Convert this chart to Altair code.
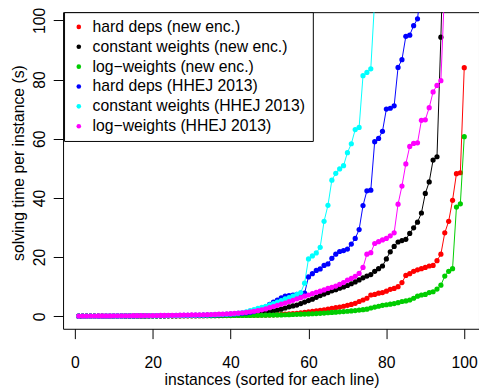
import altair as alt
import pandas as pd

series_names = [
    "hard deps (new enc.)",
    "constant weights (new enc.)",
    "log\u2212weights (new enc.)",
    "hard deps (HHEJ 2013)",
    "constant weights (HHEJ 2013)",
    "log\u2212weights (HHEJ 2013)",
]
colors = ["#FF0000", "#000000", "#00CD00", "#0000FF", "#00FFFF", "#FF00FF"]

hard_new = [
    0.05, 0.06, 0.06, 0.07, 0.07, 0.08, 0.08, 0.09, 0.09, 0.1,
    0.1, 0.11, 0.11, 0.12, 0.12, 0.13, 0.13, 0.14, 0.14, 0.15,
    0.15, 0.16, 0.16, 0.17, 0.17, 0.18, 0.18, 0.19, 0.2, 0.2,
    0.21, 0.22, 0.22, 0.23, 0.24, 0.25, 0.26, 0.27, 0.28, 0.29,
    0.3, 0.31, 0.32, 0.33, 0.35, 0.37, 0.39, 0.41, 0.43, 0.46,
    0.5, 0.55, 0.62, 0.7, 0.8, 0.9, 1.0, 1.2, 1.35, 1.5,
    1.65, 1.8, 2.0, 2.2, 2.45, 2.7, 2.9, 3.1, 3.4, 3.7,
    4.0, 4.4, 5.0, 5.5, 6.1, 7.2, 7.4, 7.8, 8.0, 8.5,
    9.1, 9.4, 10.0, 11.4, 13.8, 14.4, 15.2, 15.7, 16.1, 16.5,
    17.0, 17.2, 18.8, 21.0, 28.2, 32.1, 39.2, 48.2, 48.5, 84.0,
]
const_new = [
    0.05, 0.06, 0.06, 0.07, 0.07, 0.08, 0.08, 0.09, 0.09, 0.1,
    0.1, 0.11, 0.11, 0.12, 0.12, 0.13, 0.14, 0.14, 0.15, 0.16,
    0.16, 0.17, 0.18, 0.19, 0.2, 0.21, 0.22, 0.23, 0.24, 0.25,
    0.26, 0.27, 0.29, 0.3, 0.32, 0.34, 0.36, 0.38, 0.4, 0.43,
    0.46, 0.5, 0.55, 0.6, 0.7, 0.8, 0.95, 1.1, 1.3, 1.5,
    1.8, 2.1, 2.4, 2.8, 3.2, 3.5, 3.8, 4.3, 4.8, 5.3,
    5.8, 6.4, 7.0, 7.5, 8.0, 8.6, 9.0, 9.5, 9.9, 10.4,
    11.0, 11.6, 12.3, 13.0, 13.6, 14.1, 15.2, 16.1, 17.0, 19.4,
    21.8, 23.6, 25.1, 25.6, 26.0, 28.0, 29.9, 31.8, 34.9, 41.5,
    45.4, 52.8, 53.9, 94.3, 140.0,
]
log_new = [
    0.04, 0.05, 0.05, 0.06, 0.06, 0.07, 0.07, 0.08, 0.08, 0.09,
    0.09, 0.1, 0.1, 0.11, 0.11, 0.12, 0.12, 0.13, 0.13, 0.14,
    0.14, 0.15, 0.15, 0.16, 0.16, 0.17, 0.17, 0.18, 0.18, 0.19,
    0.19, 0.2, 0.2, 0.21, 0.22, 0.22, 0.23, 0.24, 0.25, 0.26,
    0.27, 0.28, 0.29, 0.3, 0.31, 0.32, 0.34, 0.36, 0.38, 0.4,
    0.42, 0.45, 0.48, 0.52, 0.56, 0.6, 0.65, 0.7, 0.75, 0.8,
    0.86, 0.92, 1.0, 1.1, 1.2, 1.3, 1.4, 1.5, 1.6, 1.7,
    1.8, 1.95, 2.1, 2.25, 2.4, 2.8, 3.1, 3.4, 3.7, 3.9,
    4.1, 4.3, 4.6, 5.0, 5.2, 5.5, 6.1, 6.8, 7.2, 7.4,
    8.0, 8.3, 9.2, 10.5, 13.6, 15.2, 16.1, 36.9, 38.0, 60.7,
]
hard_hhej = [
    0.05, 0.06, 0.07, 0.07, 0.08, 0.09, 0.09, 0.1, 0.1, 0.11,
    0.12, 0.12, 0.13, 0.14, 0.14, 0.15, 0.16, 0.17, 0.18, 0.19,
    0.2, 0.21, 0.22, 0.23, 0.24, 0.25, 0.27, 0.28, 0.3, 0.32,
    0.34, 0.36, 0.38, 0.4, 0.43, 0.46, 0.5, 0.55, 0.6, 0.7,
    0.8, 0.9, 1.0, 1.15, 1.3, 1.6, 2.0, 2.5, 3.2, 4.0,
    4.8, 5.5, 6.2, 6.8, 7.0, 7.2, 7.4, 7.6, 7.8, 13.3,
    14.4, 15.5, 16.0, 17.2, 17.7, 19.6, 21.0, 21.9, 22.2, 22.7,
    24.4, 26.3, 29.3, 37.4, 42.4, 42.6, 59.0, 60.1, 62.5, 70.0,
    70.3, 71.1, 84.1, 86.7, 94.6, 95.0, 98.2, 100.5, 112.0,
]
const_hhej = [
    0.06, 0.07, 0.07, 0.08, 0.09, 0.1, 0.1, 0.11, 0.12, 0.12,
    0.13, 0.14, 0.15, 0.15, 0.16, 0.17, 0.18, 0.19, 0.2, 0.21,
    0.22, 0.23, 0.24, 0.26, 0.27, 0.29, 0.3, 0.32, 0.34, 0.36,
    0.38, 0.4, 0.43, 0.46, 0.5, 0.55, 0.6, 0.66, 0.72, 0.8,
    0.9, 1.05, 1.25, 1.5, 1.9, 2.3, 2.7, 3.0, 3.4, 3.9,
    4.3, 4.8, 5.3, 5.9, 6.3, 6.8, 7.4, 8.0, 11.2, 19.4,
    20.4, 21.4, 23.3, 32.1, 37.5, 46.0, 48.3, 49.8, 50.9, 55.3,
    58.3, 63.1, 63.8, 81.3, 82.4, 83.6, 107.0,
]
log_hhej = [
    0.07, 0.08, 0.09, 0.1, 0.1, 0.11, 0.12, 0.13, 0.14, 0.15,
    0.16, 0.17, 0.18, 0.19, 0.2, 0.21, 0.22, 0.23, 0.24, 0.26,
    0.27, 0.29, 0.3, 0.32, 0.34, 0.36, 0.38, 0.4, 0.42, 0.45,
    0.48, 0.5, 0.53, 0.56, 0.6, 0.64, 0.7, 0.76, 0.82, 0.9,
    1.0, 1.1, 1.2, 1.35, 1.5, 1.7, 1.9, 2.2, 2.5, 2.9,
    3.3, 3.7, 4.1, 4.5, 5.0, 5.4, 5.9, 6.3, 6.8, 7.2,
    7.7, 8.1, 8.5, 8.9, 9.4, 9.8, 10.2, 10.8, 11.4, 12.2,
    12.8, 13.5, 14.5, 16.5, 21.0, 21.5, 24.6, 25.2, 25.8, 26.3,
    27.2, 28.2, 37.9, 44.0, 51.5, 57.4, 58.4, 58.6, 66.2, 66.4,
    70.5, 75.8, 78.0, 79.6, 112.0,
]
all_series = [hard_new, const_new, log_new, hard_hhej, const_hhej, log_hhej]

x_ticks = [0, 20, 40, 60, 80, 100]
y_ticks = [0, 20, 40, 60, 80, 100]

FONT = "Liberation Sans"

x_enc = alt.X(
    "instance:Q",
    scale=alt.Scale(domain=[-3.03, 103.79], nice=False, zero=False),
    axis=alt.Axis(
        values=x_ticks, grid=False, domain=False, tickSize=10,
        labelPadding=16, labelFlush=False, labelOverlap=False,
        title="instances (sorted for each line)",
        titleBaseline="alphabetic", titleAlign="center",
        titleX=212, titleY=57,
    ),
)
y_enc = alt.Y(
    "time:Q",
    scale=alt.Scale(domain=[-4.22, 102.76], nice=False, zero=False),
    axis=alt.Axis(
        values=y_ticks, grid=False, domain=False, tickSize=10,
        labelAngle=270, labelAlign="center", labelBaseline="alphabetic",
        labelPadding=9, labelFlush=False, labelOverlap=False,
        title="solving time per instance (s)",
        titleAngle=270, titleAlign="center", titleBaseline="alphabetic",
        titleX=-40, titleY=153,
    ),
)
color_enc = alt.Color(
    "series:N",
    scale=alt.Scale(domain=series_names, range=colors),
    legend=alt.Legend(
        title=None, orient="none", legendX=1, legendY=0,
        symbolType="circle", symbolSize=22, symbolStrokeWidth=0,
        symbolOffset=0, labelOffset=6, padding=7, rowPadding=4.2,
        labelFont=FONT, labelFontSize=16, labelColor="black", labelLimit=400,
        strokeColor="black", fillColor="white",
    ),
)

layers = []
for name, col, vals in zip(series_names, colors, all_series):
    df = pd.DataFrame({
        "instance": list(range(1, len(vals) + 1)),
        "time": vals,
        "series": name,
    })
    base = alt.Chart(df)
    line = base.mark_line(color=col, strokeWidth=1, clip=True).encode(x=x_enc, y=y_enc)
    pts = base.mark_circle(size=28, opacity=1, clip=True).encode(x=x_enc, y=y_enc, color=color_enc)
    layers += [line, pts]

chart = (
    alt.layer(*layers)
    .properties(
        width=423, height=322,
        autosize=alt.AutoSizeParams(type="none"),
        padding={"left": 56, "top": 1, "right": 0, "bottom": 58},
    )
    .configure_view(stroke="black", strokeWidth=1)
    .configure_axis(
        labelFont=FONT, labelFontSize=16, labelColor="black",
        titleFont=FONT, titleFontSize=16, titleFontWeight="normal", titleColor="black",
        tickColor="black", tickWidth=1,
    )
)

chart.save("out.html", embed_options={"renderer": "svg", "actions": False})
